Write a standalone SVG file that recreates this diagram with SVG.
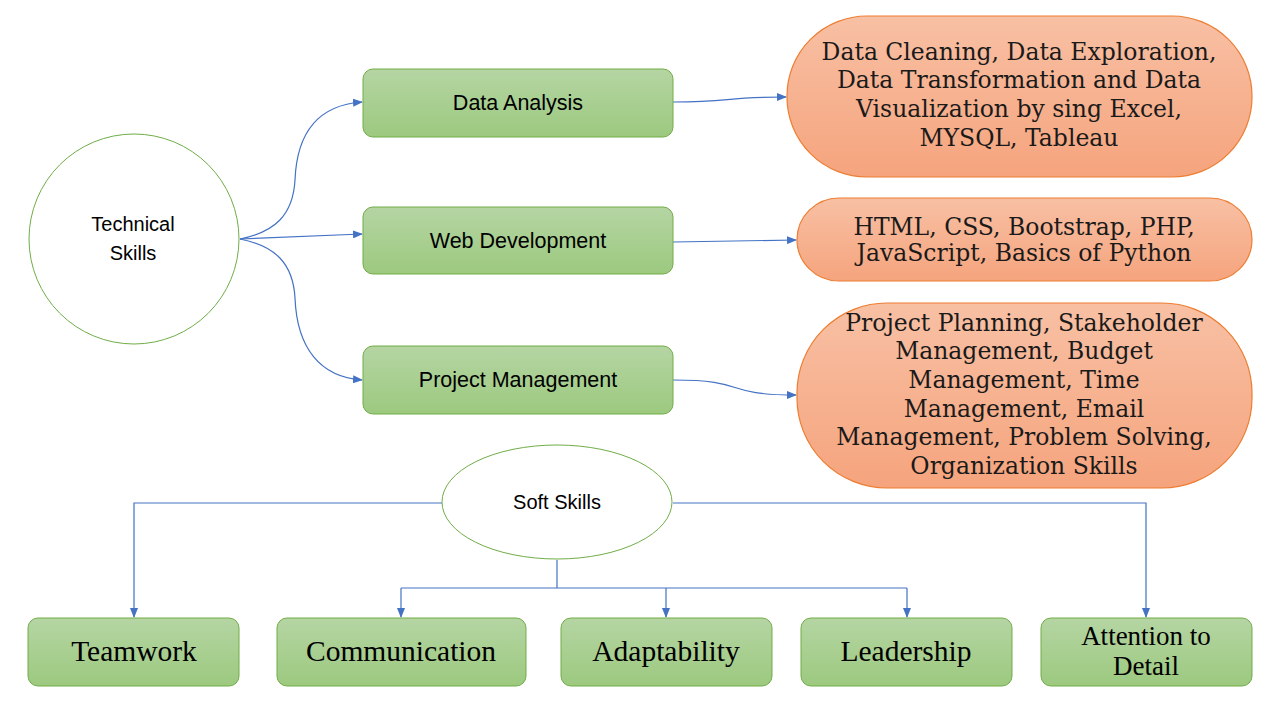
<svg xmlns="http://www.w3.org/2000/svg" width="1280" height="720" viewBox="0 0 1280 720">
<defs>
<linearGradient id="gg" x1="0" y1="0" x2="0" y2="1"><stop offset="0" stop-color="#B5D5A3"/><stop offset="1" stop-color="#9CC97F"/></linearGradient>
<linearGradient id="og" x1="0" y1="0" x2="0" y2="1"><stop offset="0" stop-color="#F8C0A4"/><stop offset="1" stop-color="#F5A47D"/></linearGradient>
<marker id="ar" markerWidth="10" markerHeight="8" refX="9" refY="4" orient="auto" markerUnits="userSpaceOnUse"><path d="M0,0 L10,4 L0,8 Z" fill="#4472C4"/></marker>
</defs>
<style>
.g{fill:url(#gg);stroke:#70AD47;stroke-width:1}
.o{fill:url(#og);stroke:#ED7D31;stroke-width:1.2}
.c{fill:#fff;stroke:#70AD47;stroke-width:1}
.ts{font-family:"Liberation Sans",Arial,sans-serif;font-size:20px;fill:#000;text-anchor:middle}
.tb{font-family:"Liberation Sans",Arial,sans-serif;font-size:21.5px;fill:#000;text-anchor:middle}
.to{font-family:"DejaVu Serif",serif;font-size:23.5px;fill:#1a1a1a;text-anchor:middle}
.tl{font-family:"Liberation Serif",serif;font-size:29.5px;fill:#000;text-anchor:middle}
.ta{font-family:"Liberation Serif",serif;font-size:27px;fill:#000;text-anchor:middle}
.ln{fill:none;stroke:#4472C4;stroke-width:1.2}
</style>
<rect width="1280" height="720" fill="#fff"/>
<g id="connectors">
<path class="ln" d="M240,239 C275,232 293,215 295,180 C297,130 320,105 362,102" marker-end="url(#ar)"/>
<path class="ln" d="M240,239 L362,234" marker-end="url(#ar)"/>
<path class="ln" d="M240,239 C275,246 293,263 295,298 C297,348 320,377 362,380" marker-end="url(#ar)"/>
<path class="ln" d="M673,102 C735,102 720,97 786,97" marker-end="url(#ar)"/>
<path class="ln" d="M673,242 L796,240" marker-end="url(#ar)"/>
<path class="ln" d="M673,380 C750,380 720,395 796,395" marker-end="url(#ar)"/>
<path class="ln" d="M442,503 H134 V617" marker-end="url(#ar)"/>
<path class="ln" d="M673,503 H1146 V617" marker-end="url(#ar)"/>
<path class="ln" d="M557,560 V588"/>
<path class="ln" d="M401,588 H907"/>
<path class="ln" d="M401,588 V617" marker-end="url(#ar)"/>
<path class="ln" d="M666,588 V617" marker-end="url(#ar)"/>
<path class="ln" d="M907,588 V617" marker-end="url(#ar)"/>
</g>
<g id="technical-skills"><circle class="c" cx="134" cy="239" r="105"/><text class="ts" x="133" y="231">Technical</text><text class="ts" x="133" y="260">Skills</text></g>
<g id="data-analysis"><rect class="g" x="363" y="69" width="310" height="68" rx="10"/><text class="tb" x="518" y="110">Data Analysis</text></g>
<g id="web-development"><rect class="g" x="363" y="207" width="310" height="67" rx="10"/><text class="tb" x="518" y="248">Web Development</text></g>
<g id="project-management"><rect class="g" x="363" y="346" width="310" height="68" rx="10"/><text class="tb" x="518" y="387">Project Management</text></g>
<g id="da-detail"><rect class="o" x="787" y="16" width="465" height="161" rx="80"/>
<text class="to" x="1019" y="60">Data Cleaning, Data Exploration,</text>
<text class="to" x="1019" y="88">Data Transformation and Data</text>
<text class="to" x="1019" y="117">Visualization by sing Excel,</text>
<text class="to" x="1019" y="146">MYSQL, Tableau</text></g>
<g id="wd-detail"><rect class="o" x="797" y="198" width="455" height="83" rx="42"/>
<text class="to" x="1024" y="235">HTML, CSS, Bootstrap, PHP,</text>
<text class="to" x="1024" y="261">JavaScript, Basics of Python</text></g>
<g id="pm-detail"><rect class="o" x="797" y="303" width="455" height="185" rx="90"/>
<text class="to" x="1024" y="331">Project Planning, Stakeholder</text>
<text class="to" x="1024" y="359">Management, Budget</text>
<text class="to" x="1024" y="388">Management, Time</text>
<text class="to" x="1024" y="417">Management, Email</text>
<text class="to" x="1024" y="445">Management, Problem Solving,</text>
<text class="to" x="1024" y="474">Organization Skills</text></g>
<g id="soft-skills"><ellipse class="c" cx="557" cy="502" rx="115" ry="57"/><text class="ts" x="557" y="509">Soft Skills</text></g>
<g id="teamwork"><rect class="g" x="28" y="618" width="211" height="68" rx="10"/><text class="tl" x="134" y="661">Teamwork</text></g>
<g id="communication"><rect class="g" x="277" y="618" width="249" height="68" rx="10"/><text class="tl" x="401" y="661">Communication</text></g>
<g id="adaptability"><rect class="g" x="561" y="618" width="211" height="68" rx="10"/><text class="tl" x="666" y="661">Adaptability</text></g>
<g id="leadership"><rect class="g" x="801" y="618" width="211" height="68" rx="10"/><text class="tl" x="906" y="661">Leadership</text></g>
<g id="attention"><rect class="g" x="1041" y="618" width="211" height="68" rx="10"/><text class="ta" x="1146" y="645">Attention to</text><text class="ta" x="1146" y="675">Detail</text></g>
</svg>
